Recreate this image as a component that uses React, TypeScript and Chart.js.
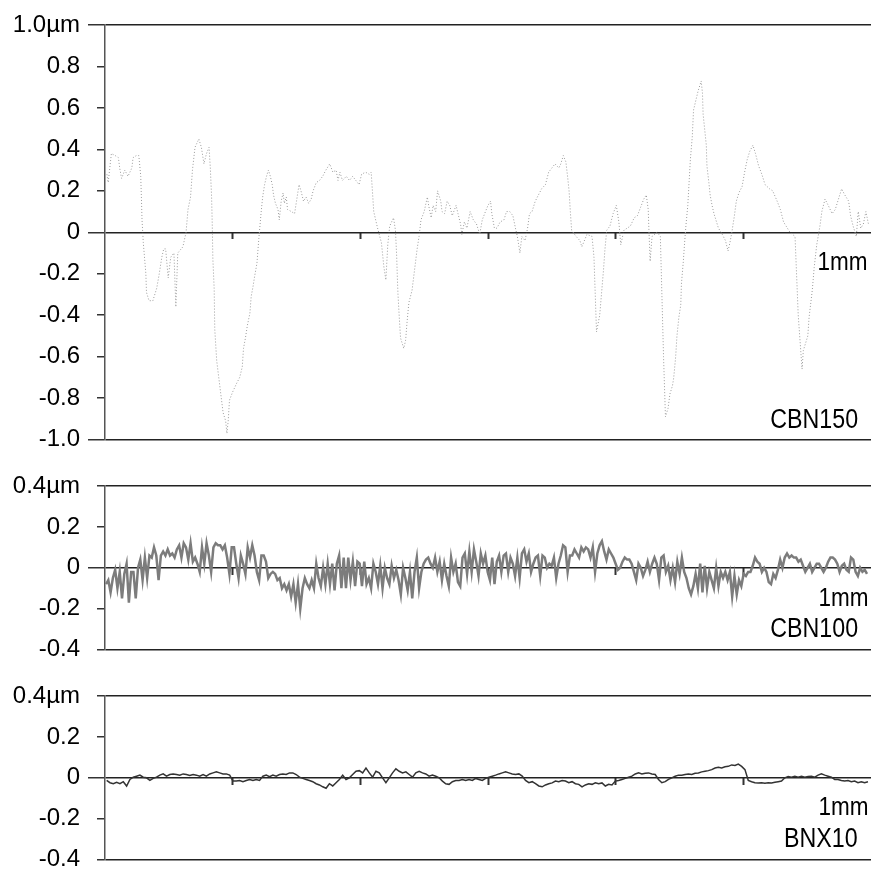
import React, { useEffect, useRef } from 'react';
import { Chart, registerables } from 'chart.js';

Chart.register(...registerables);

const FONT = '"Liberation Sans", Arial, Helvetica, sans-serif';

// ---------- shared axis data ----------
const profileLengthUm = 1200; // x axis length, micrometres
const xTickStepUm = 200;
const unitLabel = '1mm';
const panelNames = ['CBN150', 'CBN100', 'BNX10'];

// ---------- CBN150 (range -1.0 .. 1.0 µm) ----------
const cbn150TickLabels = ['-1.0', '-0.8', '-0.6', '-0.4', '-0.2', '0', '0.2', '0.4', '0.6', '0.8', '1.0µm'];
const cbn150X = [
  3, 5, 10, 16, 21, 23, 26, 31, 36, 42, 44, 49, 53, 56, 57, 58, 60, 64, 65, 69,
  75, 81, 85, 89, 92, 95, 99, 103, 108, 111, 114, 122, 127, 130, 134, 137, 141, 144, 147, 151,
  155, 159, 163, 165, 167, 168, 169, 171, 172, 175, 185, 189, 191, 193, 195, 200, 206, 211, 215, 217,
  220, 223, 227, 229, 232, 234, 238, 241, 243, 245, 247, 250, 253, 256, 259, 262, 264, 267, 271, 273,
  276, 279, 281, 284, 286, 292, 297, 300, 304, 307, 311, 315, 319, 323, 326, 331, 336, 341, 346, 352,
  357, 362, 365, 368, 372, 378, 383, 388, 393, 398, 402, 408, 414, 417, 421, 427, 433, 437, 440, 443,
  446, 452, 455, 457, 458, 459, 461, 463, 468, 471, 473, 476, 481, 485, 489, 492, 495, 500, 505, 507,
  511, 514, 518, 521, 526, 528, 532, 536, 540, 544, 550, 553, 557, 559, 563, 567, 572, 577, 582, 587,
  591, 596, 600, 604, 606, 610, 614, 619, 625, 629, 634, 639, 643, 646, 650, 653, 658, 662, 665, 669,
  674, 679, 684, 690, 695, 700, 705, 711, 714, 718, 722, 725, 727, 729, 731, 738, 744, 747, 755, 763,
  766, 768, 770, 775, 778, 781, 783, 786, 791, 796, 801, 805, 808, 813, 818, 823, 829, 834, 839, 844,
  848, 851, 852, 853, 854, 857, 865, 870, 875, 878, 882, 885, 889, 891, 894, 896, 899, 902, 903, 906,
  908, 910, 913, 915, 917, 920, 922, 929, 934, 936, 937, 939, 942, 943, 946, 948, 951, 954, 958, 961,
  967, 972, 976, 979, 982, 986, 989, 993, 998, 1002, 1006, 1010, 1015, 1019, 1024, 1029, 1034, 1041, 1046, 1053,
  1058, 1063, 1067, 1073, 1081, 1086, 1092, 1094, 1101, 1103, 1108, 1111, 1115, 1120, 1123, 1128, 1133, 1139, 1144, 1149,
  1154, 1159, 1165, 1168, 1172, 1177, 1180, 1184, 1188, 1192, 1196,
];
const cbn150Y = [
  0.28, 0.24, 0.38, 0.37, 0.36, 0.31, 0.26, 0.30, 0.27, 0.31, 0.36, 0.37, 0.37, 0.27, 0.17, 0.06, -0.05, -0.20, -0.29, -0.33,
  -0.33, -0.27, -0.20, -0.12, -0.08, -0.08, -0.22, -0.12, -0.10, -0.36, -0.10, -0.07, 0.00, 0.11, 0.17, 0.30, 0.41, 0.43, 0.45, 0.41,
  0.33, 0.38, 0.41, 0.31, 0.17, 0.04, -0.13, -0.27, -0.47, -0.62, -0.87, -0.91, -0.97, -0.91, -0.81, -0.77, -0.73, -0.70, -0.65, -0.56,
  -0.51, -0.45, -0.39, -0.31, -0.26, -0.22, -0.15, -0.03, 0.04, 0.11, 0.17, 0.23, 0.27, 0.30, 0.27, 0.23, 0.18, 0.14, 0.11, 0.06,
  0.15, 0.19, 0.14, 0.17, 0.11, 0.10, 0.09, 0.15, 0.23, 0.20, 0.15, 0.17, 0.14, 0.16, 0.20, 0.24, 0.25, 0.27, 0.30, 0.33,
  0.29, 0.30, 0.25, 0.29, 0.25, 0.27, 0.25, 0.27, 0.25, 0.23, 0.28, 0.29, 0.28, 0.29, 0.10, 0.02, -0.05, -0.17, -0.23, -0.06,
  0.03, 0.07, 0.01, -0.12, -0.22, -0.30, -0.41, -0.51, -0.56, -0.52, -0.44, -0.34, -0.28, -0.18, -0.08, -0.02, 0.06, 0.10, 0.17, 0.13,
  0.07, 0.13, 0.10, 0.20, 0.15, 0.10, 0.09, 0.15, 0.13, 0.08, 0.13, 0.09, 0.04, -0.01, 0.05, 0.02, 0.10, 0.06, 0.04, -0.01,
  0.06, 0.10, 0.13, 0.15, 0.09, 0.02, 0.02, 0.05, 0.06, 0.10, 0.10, 0.08, 0.02, -0.02, -0.10, -0.02, -0.04, 0.02, 0.09, 0.10,
  0.15, 0.18, 0.21, 0.23, 0.29, 0.31, 0.33, 0.31, 0.33, 0.37, 0.34, 0.26, 0.20, 0.10, 0.01, -0.02, -0.04, -0.07, -0.01, -0.02,
  -0.12, -0.30, -0.48, -0.40, -0.29, -0.18, -0.09, 0.01, 0.03, 0.09, 0.13, 0.05, -0.06, 0.01, 0.02, 0.03, 0.07, 0.08, 0.12, 0.16,
  0.18, 0.11, 0.02, -0.06, -0.14, -0.02, 0.00, -0.02, -0.60, -0.89, -0.85, -0.78, -0.74, -0.70, -0.60, -0.50, -0.41, -0.35, -0.25, -0.14,
  -0.05, 0.03, 0.13, 0.24, 0.35, 0.46, 0.59, 0.68, 0.73, 0.67, 0.57, 0.51, 0.42, 0.32, 0.24, 0.18, 0.13, 0.09, 0.05, 0.02,
  -0.01, -0.04, -0.09, -0.05, 0.00, 0.08, 0.15, 0.19, 0.22, 0.29, 0.35, 0.39, 0.42, 0.38, 0.32, 0.28, 0.23, 0.21, 0.20, 0.15,
  0.11, 0.05, 0.03, 0.00, -0.02, -0.40, -0.66, -0.57, -0.50, -0.41, -0.28, -0.17, -0.06, 0.03, 0.10, 0.16, 0.13, 0.09, 0.11, 0.16,
  0.21, 0.18, 0.15, 0.08, 0.03, -0.02, 0.10, 0.02, 0.04, 0.10, 0.04,
];

// ---------- CBN100 (range -0.4 .. 0.4 µm), evenly sampled ----------
const smallTickLabels = ['-0.4', '-0.2', '0', '0.2', '0.4µm'];
const cbn100StartUm = 1.6;
const cbn100StepUm = 3.58;
const cbn100Y = [
  -0.08, -0.06, -0.12, -0.05, -0.01, -0.10, -0.02, -0.15, -0.03, 0.02,
  -0.17, -0.02, -0.02, -0.15, 0.00, 0.04, -0.06, 0.05, -0.05, 0.06,
  0.05, 0.10, 0.06, -0.06, 0.06, 0.08, 0.06, 0.09, 0.06, 0.07,
  0.05, 0.09, 0.11, 0.05, 0.12, 0.10, 0.04, 0.12, 0.03, 0.05,
  0.02, -0.02, 0.10, 0.02, 0.12, 0.06, -0.02, 0.10, 0.12, 0.11,
  0.11, 0.09, 0.11, 0.05, -0.03, 0.10, 0.10, 0.02, -0.05, 0.06,
  0.02, -0.03, 0.10, 0.05, 0.11, 0.06, -0.02, -0.06, 0.06, 0.06,
  0.03, -0.05, -0.03, -0.02, -0.03, -0.06, -0.05, -0.10, -0.08, -0.11,
  -0.08, -0.14, -0.08, -0.17, -0.08, -0.20, -0.10, -0.05, -0.08, -0.10,
  -0.06, -0.10, 0.02, -0.05, -0.09, 0.00, -0.08, 0.02, -0.08, 0.02,
  -0.11, 0.02, 0.06, -0.10, 0.05, -0.10, 0.05, -0.06, 0.03, -0.09,
  0.03, 0.02, -0.09, 0.03, -0.08, -0.05, -0.10, 0.02, -0.02, -0.08,
  0.01, -0.10, 0.00, -0.05, -0.08, 0.01, -0.05, -0.01, -0.06, -0.13,
  0.00, -0.05, -0.11, -0.02, -0.15, -0.02, 0.05, -0.10, -0.02, 0.02,
  0.04, 0.05, 0.02,
  0.00, 0.05, -0.02, 0.03, -0.06, 0.02, -0.04, -0.09, 0.05, -0.02,
  0.02, -0.07, -0.09, 0.05, 0.07, -0.03, 0.08, -0.02, 0.09, 0.03,
  -0.04, 0.07, 0.02, 0.06, -0.02, -0.06, 0.05, -0.08, 0.03, 0.06,
  -0.02, 0.06, 0.07, -0.02, 0.05, 0.02, -0.04, 0.05, -0.05, 0.07,
  0.09, 0.03, 0.07, -0.02, 0.02, 0.05, 0.06, -0.04, 0.06, 0.05,
  0.00, 0.02, 0.01, 0.05, -0.05, 0.02, 0.06, 0.11, 0.10, -0.02,
  0.06, 0.06, 0.09, 0.07, 0.05, 0.10, 0.08, 0.10, 0.09, 0.05,
  0.10, -0.02, 0.07, 0.11, 0.13, 0.08, 0.04, 0.09, 0.07, 0.05,
  0.02, -0.01, 0.00, 0.03, 0.05, 0.04, 0.04, 0.02, -0.02, -0.06,
  0.02, 0.00, -0.04, -0.01, 0.03, -0.02, 0.02, 0.05, 0.02, -0.06,
  0.05, 0.06, -0.02, 0.01, -0.06, 0.00, -0.07, 0.03, -0.03, 0.05,
  -0.02, -0.05, -0.10, -0.13, -0.09, -0.03, -0.10, 0.02, -0.12, 0.01,
  -0.10, -0.02, -0.06, -0.10, 0.00, -0.09, -0.02, -0.05, -0.02, -0.06,
  -0.02, -0.14, -0.04, -0.13, -0.06, -0.09, -0.03, -0.04, -0.02, -0.02,
  0.01, 0.05, 0.03, 0.02, -0.02, 0.00, -0.02, -0.07, -0.08, -0.03,
  -0.05, -0.01, 0.04, 0.00, 0.05, 0.07, 0.05, 0.06, 0.05, 0.05,
  0.03, 0.04, 0.01, -0.02, 0.00, 0.02, -0.02, 0.00, 0.02, 0.02,
  0.00, -0.02, 0.00, 0.03, 0.05, 0.05, 0.04, 0.02, -0.02, 0.01,
  0.02, -0.01, -0.02, 0.05, 0.04, -0.02, -0.04, 0.00, -0.02, -0.01,
  -0.03,
];

// ---------- BNX10 (range -0.4 .. 0.4 µm), evenly sampled ----------
const bnx10StartUm = 2.6;
const bnx10StepUm = 5.208;
const bnx10Y = [
  -0.013, -0.024, -0.029, -0.022, -0.029, -0.019, -0.040, -0.008, 0.003, 0.008,
  0.013, 0.003, 0, -0.013, -0.003, 0.003, 0.013, 0.019, 0.008, 0.016,
  0.019, 0.016, 0.013, 0.019, 0.016, 0.011, 0.016, 0.013, 0.008, 0.016,
  0.008, 0.019, 0.024, 0.029, 0.024, 0.019, 0.019, 0.013, -0.016, -0.016,
  -0.013, -0.019, -0.013, -0.008, -0.013, -0.008, -0.013, 0.008, 0.013, 0.006,
  0.013, 0.008, 0.016, 0.019, 0.016, 0.024, 0.024, 0.016, 0.003, -0.003,
  -0.008, -0.013, -0.019, -0.029, -0.035, -0.044, -0.051, -0.029, -0.040, -0.024,
  -0.008, 0.013, -0.008, 0, 0.016, 0.032, 0.035, 0.024, 0.048, 0.024,
  0.003, 0.032, 0.024, 0, -0.024, 0, 0.024, 0.044, 0.032, 0.024,
  0.029, 0.016, 0.003, 0.024, 0.032, 0.024, 0.019,
  0.008, 0.013, 0.008, 0, -0.016, -0.029, -0.032, -0.019, -0.013, -0.013,
  -0.008, -0.013, -0.008, -0.013, -0.003, -0.008, -0.013, -0.003, 0.003, 0.008,
  0.013, 0.019, 0.024, 0.029, 0.024, 0.019, 0.016, 0.019, 0.008, -0.013,
  -0.024, -0.019, -0.029, -0.040, -0.044, -0.035, -0.029, -0.025, -0.016, -0.019,
  -0.013, -0.016, -0.024, -0.019, -0.029, -0.032, -0.044, -0.035, -0.029, -0.032,
  -0.024, -0.029, -0.025, -0.040, -0.032, -0.035, -0.016, -0.013, -0.008, -0.003,
  0.003, 0.008, 0.019, 0.024, 0.019, 0.022, 0.024, 0.019, 0.016, -0.008,
  -0.024, -0.019, -0.008, 0, 0.008, 0.013, 0.013, 0.016, 0.019, 0.016,
  0.022, 0.024, 0.029, 0.032, 0.035, 0.040, 0.048, 0.051, 0.048, 0.054,
  0.056, 0.063, 0.060, 0.067, 0.056, 0.040, -0.013, -0.019, -0.024, -0.025,
  -0.024, -0.027, -0.024, -0.025, -0.022, -0.019, -0.016, 0, 0.006, 0.003,
  0.008, 0.003, 0.008, 0.003, 0.006, 0.008, 0.003, 0.013, 0.019, 0.013,
  0.008, 0.003, -0.008, -0.008, -0.013, -0.016, -0.013, -0.019, -0.016, -0.024,
  -0.019, -0.024, -0.019,
];

type Pt = { x: number; y: number };

const cbn150Points: Pt[] = cbn150X.map((x, i) => ({ x, y: cbn150Y[i] }));
const cbn100Points: Pt[] = cbn100Y.map((y, i) => ({ x: cbn100StartUm + i * cbn100StepUm, y }));
const bnx10Points: Pt[] = bnx10Y.map((y, i) => ({ x: bnx10StartUm + i * bnx10StepUm, y }));

type ProfileProps = {
  top: number;
  height: number;
  padTop: number;
  padBottom: number;
  min: number;
  max: number;
  tickLabels: string[];
  longTicks: number[];
  points: Pt[];
  color: string;
  width: number;
  dash: number[];
};

const near = (a: number, b: number) => Math.abs(a - b) < 1e-6;

function ProfileChart(p: ProfileProps) {
  const ref = useRef<HTMLCanvasElement | null>(null);
  useEffect(() => {
    if (!ref.current) return;
    const frame = [p.min, 0, p.max];
    const chart = new Chart(ref.current, {
      type: 'line',
      data: {
        datasets: [
          {
            data: p.points,
            borderColor: p.color,
            borderWidth: p.width,
            borderDash: p.dash,
            pointRadius: 0,
            pointHoverRadius: 0,
            fill: false,
            tension: 0,
          },
        ],
      },
      options: {
        responsive: false,
        maintainAspectRatio: false,
        animation: false,
        events: [],
        layout: { padding: { top: p.padTop, bottom: p.padBottom, left: 0, right: 0 } },
        plugins: {
          legend: { display: false },
          tooltip: { enabled: false },
        },
        scales: {
          x: {
            type: 'linear',
            min: 0,
            max: profileLengthUm,
            position: { y: 0 } as any,
            ticks: { display: false, stepSize: xTickStepUm },
            grid: {
              drawOnChartArea: false,
              drawTicks: true,
              tickLength: 7,
              tickWidth: 2,
              color: 'rgba(0,0,0,0)',
              tickColor: (ctx: any) =>
                ctx.tick && ctx.tick.value > 1 && ctx.tick.value < profileLengthUm - 1 ? '#333' : 'rgba(0,0,0,0)',
            },
            border: { display: false },
          },
          y: {
            type: 'linear',
            min: p.min,
            max: p.max,
            afterFit: (s: any) => {
              s.width = 105;
            },
            ticks: {
              stepSize: 0.2,
              autoSkip: false,
              color: '#000',
              padding: 8,
              font: { family: FONT, size: 24 },
              callback: (_v: any, i: number) => p.tickLabels[i],
            },
            grid: {
              drawOnChartArea: true,
              drawTicks: true,
              tickLength: 17,
              lineWidth: 1.5,
              tickWidth: 1.5,
              color: (ctx: any) =>
                ctx.tick && frame.some((t) => near(ctx.tick.value, t)) ? '#222' : 'rgba(0,0,0,0)',
              tickColor: '#333',
              tickBorderDash: (ctx: any) =>
                ctx.tick && p.longTicks.some((t) => near(ctx.tick.value, t)) ? [] : [0, 9, 8, 40],
            } as any,
            border: { display: true, color: '#555', width: 1.5 },
          },
        },
      },
    });
    return () => chart.destroy();
  }, []);
  return (
    <canvas
      ref={ref}
      width={871}
      height={p.height}
      style={{ position: 'absolute', left: 0, top: p.top, width: 871, height: p.height }}
    />
  );
}

function Label(props: { text: string; top: number; right: number; size: number; sx: number }) {
  return (
    <div
      style={{
        position: 'absolute',
        top: props.top,
        right: 871 - props.right,
        fontFamily: FONT,
        fontSize: props.size,
        lineHeight: `${props.size}px`,
        color: '#000',
        whiteSpace: 'nowrap',
        transform: `scaleX(${props.sx})`,
        transformOrigin: 'right center',
      }}
    >
      {props.text}
    </div>
  );
}

export default function App() {
  return (
    <div
      style={{
        position: 'absolute',
        left: 0,
        top: 0,
        width: 871,
        height: 875,
        overflow: 'hidden',
        background: '#fff',
      }}
    >
      <ProfileChart
        top={0}
        height={462}
        padTop={25}
        padBottom={17}
        min={-1}
        max={1}
        tickLabels={cbn150TickLabels}
        longTicks={[-1, 0, 1]}
        points={cbn150Points}
        color="#9a9a9a"
        width={1}
        dash={[1, 2]}
      />
      <ProfileChart
        top={458}
        height={214}
        padTop={28}
        padBottom={18}
        min={-0.4}
        max={0.4}
        tickLabels={smallTickLabels}
        longTicks={[0]}
        points={cbn100Points}
        color="#7c7c7c"
        width={2.5}
        dash={[]}
      />
      <ProfileChart
        top={668}
        height={214}
        padTop={28}
        padBottom={18}
        min={-0.4}
        max={0.4}
        tickLabels={smallTickLabels}
        longTicks={[0]}
        points={bnx10Points}
        color="#333333"
        width={1.5}
        dash={[]}
      />
      <Label text={unitLabel} top={249} right={868} size={25} sx={0.9} />
      <Label text={panelNames[0]} top={406} right={858} size={27} sx={0.86} />
      <Label text={unitLabel} top={585} right={869} size={25} sx={0.9} />
      <Label text={panelNames[1]} top={615} right={858} size={27} sx={0.86} />
      <Label text={unitLabel} top={794} right={869} size={25} sx={0.9} />
      <Label text={panelNames[2]} top={825} right={858} size={27} sx={0.86} />
    </div>
  );
}
